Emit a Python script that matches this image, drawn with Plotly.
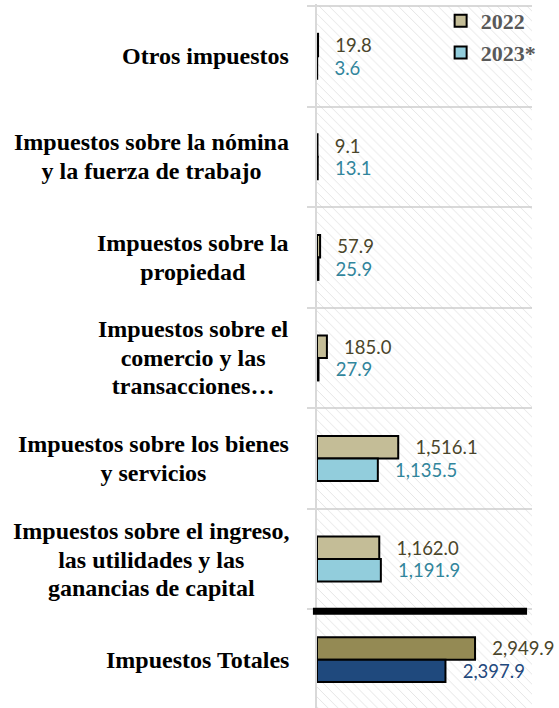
import plotly.graph_objects as go

# ---- data (top to bottom as displayed) ----
categories = [
    "Otros impuestos",
    "Impuestos sobre la nómina<br>y la fuerza de trabajo",
    "Impuestos sobre la<br>propiedad",
    "Impuestos sobre el<br>comercio y las<br>transacciones…",
    "Impuestos sobre los bienes<br>y servicios",
    "Impuestos sobre el ingreso,<br>las utilidades y las<br>ganancias de capital",
    "Impuestos Totales",
]
values_2022 = [19.8, 9.1, 57.9, 185.0, 1516.1, 1162.0, 2949.9]
values_2023 = [3.6, 13.1, 25.9, 27.9, 1135.5, 1191.9, 2397.9]
series_names = ["2022", "2023*"]

# ---- styling ----
n = len(categories)
ypos = [n - 1 - i for i in range(n)]
XMAX = 4013
BARW = 0.2235

colors_2022 = ["#C4BD97"] * (n - 1) + ["#948A54"]
colors_2023 = ["#92CDDC"] * (n - 1) + ["#1F497D"]
lab_2022 = ["#4A452A"] * n
lab_2023 = ["#31859C"] * (n - 1) + ["#1F497D"]
NB = "\u00a0" * 3

fig = go.Figure()

# hatched background
fig.add_trace(go.Bar(
    orientation="h", x=[XMAX] * n, y=ypos, width=1,
    marker=dict(color="rgba(0,0,0,0)", line=dict(width=0),
                pattern=dict(shape="\\", size=7, solidity=0.14,
                             fgcolor="#c9c9c9", bgcolor="rgba(0,0,0,0)")),
    showlegend=False, hoverinfo="skip",
))

fig.add_trace(go.Bar(
    name=series_names[0], orientation="h", x=values_2022, y=ypos,
    width=BARW, offset=0,
    marker=dict(color=colors_2022, line=dict(color="black", width=2)),
    texttemplate=NB + "%{x:,.1f}", textposition="outside",
    textfont=dict(family="Lato", size=18.5, color=lab_2022),
    constraintext="none", cliponaxis=False, hoverinfo="skip",
))
fig.add_trace(go.Bar(
    name=series_names[1], orientation="h", x=values_2023, y=ypos,
    width=BARW, offset=-BARW,
    marker=dict(color=colors_2023, line=dict(color="black", width=2)),
    texttemplate=NB + "%{x:,.1f}", textposition="outside",
    textfont=dict(family="Lato", size=18.5, color=lab_2023),
    constraintext="none", cliponaxis=False, hoverinfo="skip",
))

# category labels (centered multi-line blocks, right aligned to axis)
for cat, y in zip(categories, ypos):
    fig.add_annotation(
        xref="paper", x=0, xanchor="right", xshift=-26,
        yref="y", y=y, yanchor="middle", align="center",
        text='<span style="font-size:24px">' + cat + "</span>",
        showarrow=False,
        font=dict(family="Liberation Serif", size=22, color="black", weight="bold"),
    )

# separator between totals and components
fig.add_shape(type="line", xref="paper", x0=-0.019, x1=0.977,
              yref="y", y0=0.48, y1=0.48,
              line=dict(color="black", width=7), layer="above")

fig.update_layout(
    width=559, height=708,
    margin=dict(l=317, r=27, t=3, b=0),
    barmode="overlay",
    paper_bgcolor="white", plot_bgcolor="white",
    showlegend=True,
    legend=dict(x=0.575, xanchor="left", y=1.006, yanchor="top",
                bgcolor="rgba(0,0,0,0)",
                font=dict(family="Liberation Serif", size=22, color="#595959", weight="bold")),
    xaxis=dict(range=[0, XMAX], showgrid=False, zeroline=False,
               showticklabels=False, ticks=""),
    yaxis=dict(range=[-0.481, 6.5199],
               tickvals=[i + 0.5 for i in range(-1, n)],
               showticklabels=False, ticks="outside", ticklen=8,
               tickcolor="#d9d9d9", tickwidth=2,
               showgrid=True, gridcolor="#d9d9d9", gridwidth=2,
               showline=True, linecolor="#d9d9d9", linewidth=2,
               zeroline=False),
)

fig.write_html("out.html", config={"displayModeBar": False},
               post_script="document.body.style.margin='0';")
